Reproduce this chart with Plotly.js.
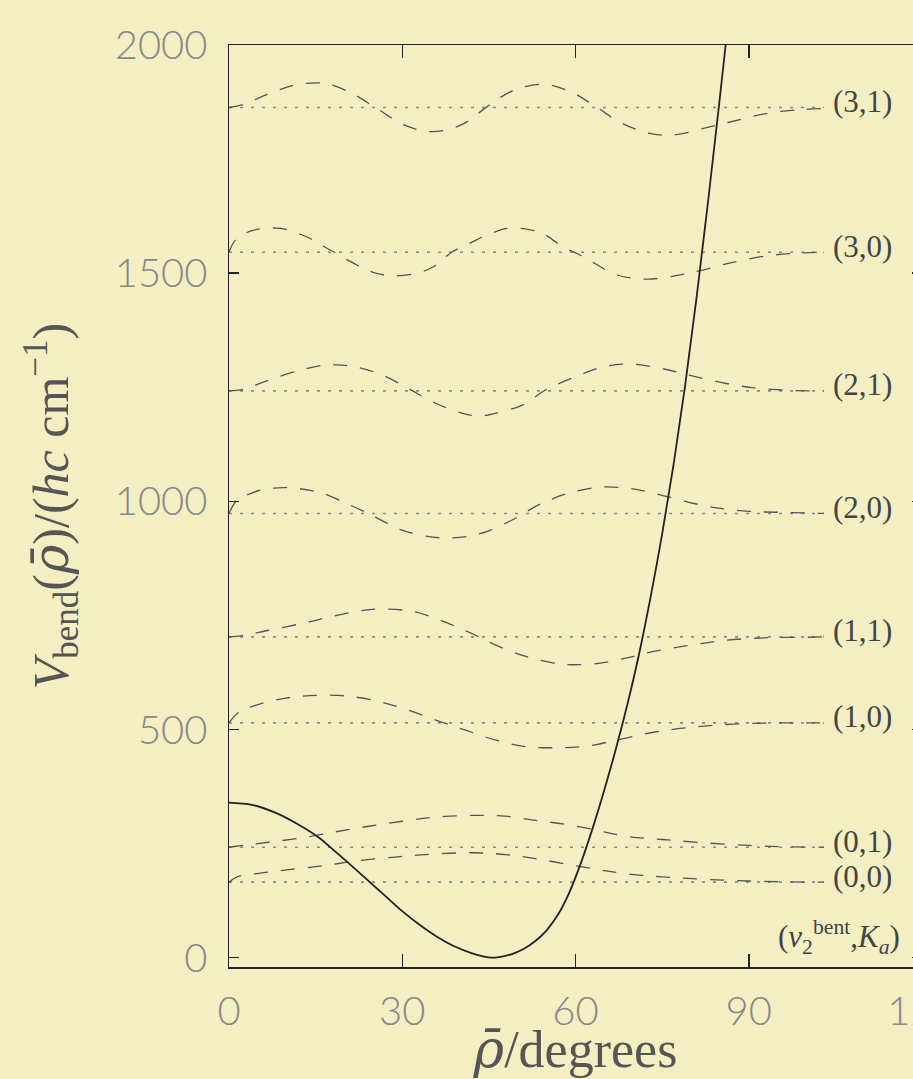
<!DOCTYPE html>
<html>
<head>
<meta charset="utf-8">
<script src="https://cdn.plot.ly/plotly-3.0.1.min.js"></script>
<style>
html,body{margin:0;padding:0;overflow:hidden;background:#f3efc3;}
#chart{width:960px;height:1079px;}
</style>
</head>
<body>
<div id="chart"></div>
<script>
// Bending potential (solid curve)
var rhoPot = [0, 4, 8, 12, 15.6, 18, 21, 24, 27, 30, 33, 36, 39, 42, 44, 45.3, 47, 49, 51, 53, 55, 57, 59, 61, 63, 65, 67, 69, 71, 73, 75, 77, 79, 81, 83, 85, 87];
var vPot   = [340, 335, 318, 292, 263, 237, 204, 170, 136, 102, 72, 46, 25, 10, 3, 0, 2, 8, 19, 36, 60, 95, 145, 210, 285, 368, 458, 556, 665, 790, 928, 1082, 1255, 1450, 1662, 1885, 2115];

// Energy levels (v2bent, Ka)
var levelLabels = ["(0,0)", "(0,1)", "(1,0)", "(1,1)", "(2,0)", "(2,1)", "(3,0)", "(3,1)"];
var levelEnergies = [165.5, 242, 514.6, 703, 973.5, 1242, 1546, 1863];
var levelEnd = 103;

// Wavefunction-like dashed curves (x in degrees, y in cm^-1)
var wf00x = [0, 1.4, 5.2, 10.4, 16.7, 21.9, 28.3, 34, 42.1, 47.9, 53.1, 58.9, 64, 68.7, 75, 82, 90, 97, 103];
var wf00y = [165.5, 177, 185, 193, 202, 212, 220, 226, 230, 226, 217, 204, 193, 184, 177, 172, 168, 166, 165.5];

var wf01x = [0, 2.9, 6.9, 12.7, 18.5, 24.2, 30, 35.8, 42.7, 47.9, 53.1, 58.3, 63.5, 68.7, 75, 82, 90, 97, 103];
var wf01y = [242, 247, 253, 263, 276, 288, 299, 308, 312, 310, 301, 292, 280, 266, 259, 252, 246, 243, 242];

var wf10x = [0, 1.7, 4.6, 9.9, 15.6, 19.9, 25.8, 31.1, 36.4, 41.1, 46.4, 51, 56.3, 61.6, 67.6, 73.5, 79.5, 86.1, 92.7, 99.4, 103];
var wf10y = [514.6, 538, 553, 569, 575, 574, 562, 542, 518, 498, 476, 463, 460, 463, 478, 494, 504, 511, 514, 514.6, 514.6];

var wf11x = [0, 2.6, 6.6, 12.9, 17.9, 23.2, 26.5, 32.1, 37.1, 42.1, 46.7, 51.7, 57, 60.3, 64.6, 68.9, 73.5, 79.5, 85.5, 92.7, 99.4, 103];
var wf11y = [703, 706, 717, 733, 748, 761, 764, 758, 737, 710, 682, 659, 644, 642, 646, 657, 671, 684, 695, 701, 702, 703];

var wf20x = [0, 1.4, 3.7, 6.3, 10.1, 14.1, 16.4, 20.2, 23.7, 26, 29.7, 33.5, 36.9, 41.3, 45.1, 49.6, 53.1, 55.5, 59.1, 64, 68.9, 73.5, 79.6, 84.8, 90, 95.2, 101.5, 103];
var wf20y = [973.5, 1003, 1017, 1027, 1030, 1024, 1017, 996, 976, 961, 938, 925, 920, 923, 936, 963, 989, 1003, 1019, 1031, 1029, 1018, 998, 985, 978, 976, 974, 973.5];

var wf21x = [0, 2.6, 6.3, 11.3, 16.2, 18.5, 21.8, 26.5, 31.2, 35.8, 40.4, 43.3, 46.1, 50.8, 54.8, 60, 64.9, 69.2, 75.3, 80.2, 85.4, 90.6, 95.8, 101, 103];
var wf21y = [1242, 1246, 1263, 1284, 1298, 1299, 1295, 1277, 1246, 1215, 1193, 1187, 1193, 1211, 1244, 1273, 1295, 1301, 1290, 1275, 1260, 1249, 1244, 1242, 1242];

var wf30x = [0, 1.15, 3.7, 6.1, 9, 11.3, 13.9, 15.9, 18.5, 20.5, 23.1, 25.4, 28.8, 33.1, 35.4, 38.7, 42.1, 44.4, 48.2, 52.2, 54.6, 58, 60.6, 63.5, 67.2, 72.4, 77.6, 81.4, 86.6, 93.2, 98.4, 103];
var wf30y = [1546, 1573, 1592, 1598, 1598, 1590, 1577, 1562, 1544, 1529, 1512, 1500, 1494, 1502, 1514, 1547, 1568, 1582, 1598, 1595, 1585, 1556, 1541, 1520, 1496, 1487, 1495, 1505, 1522, 1538, 1544, 1546];

var wf31x = [0, 2.6, 6.3, 11.3, 15.3, 17.4, 21.3, 25.7, 30.3, 35.2, 40.4, 44.7, 49, 54.2, 59.1, 63.5, 68.1, 73, 77, 83.4, 88.3, 93.5, 98.7, 103];
var wf31y = [1863, 1870, 1890, 1912, 1917, 1914, 1894, 1860, 1825, 1810, 1826, 1865, 1899, 1914, 1898, 1865, 1828, 1806, 1803, 1821, 1836, 1851, 1858, 1861];

var xTicks = [0, 30, 60, 90, 120];
var yTicks = [0, 500, 1000, 1500, 2000];

var traces = [];
var dashColor = '#555555';
var dotColor = '#8a8a8a';

// dotted levels
for (var i = 0; i < levelEnergies.length; i++) {
  traces.push({
    x: [0, levelEnd], y: [levelEnergies[i], levelEnergies[i]],
    mode: 'lines', line: {color: dotColor, width: 1.6, dash: '3px,8px'},
    hoverinfo: 'skip', showlegend: false
  });
}

var wfs = [[wf00x, wf00y], [wf01x, wf01y], [wf10x, wf10y], [wf11x, wf11y],
           [wf20x, wf20y], [wf21x, wf21y], [wf30x, wf30y], [wf31x, wf31y]];
wfs.forEach(function (w) {
  traces.push({
    x: w[0], y: w[1], mode: 'lines',
    line: {color: dashColor, width: 1.3, dash: '14px,13px', shape: 'spline', smoothing: 1},
    hoverinfo: 'skip', showlegend: false
  });
});

traces.push({
  x: rhoPot, y: vPot, mode: 'lines',
  line: {color: '#222222', width: 1.8, shape: 'spline', smoothing: 1},
  hoverinfo: 'skip', showlegend: false
});

var annotations = levelLabels.map(function (lab, i) {
  return {
    x: 104.3, y: levelEnergies[i], xref: 'x', yref: 'y',
    text: lab, showarrow: false, xanchor: 'left', yanchor: 'middle', yshift: 6,
    font: {family: 'Liberation Serif, serif', size: 31, color: '#444444'}
  };
});
annotations.push({
  x: 116.6, y: 45, xref: 'x', yref: 'y', showarrow: false, xanchor: 'right', yanchor: 'middle',
  text: '(<i>v</i><sub>2</sub><sup>bent</sup>,<i>K</i><sub><i>a</i></sub>)',
  font: {family: 'Liberation Serif, serif', size: 31, color: '#444444'}
});

var axisCommon = {
  showline: true, linecolor: '#222222', linewidth: 1.5, mirror: 'allticks',
  ticks: 'inside', tickcolor: '#222222', tickwidth: 1.5,
  showgrid: false, zeroline: false,
  tickfont: {family: 'Lato, sans-serif', size: 40, color: '#888888', weight: 300}
};

var rhoBar = '<span style="font-family:\'DejaVu Serif\'">ρ\u0304</span>';

var layout = {
  width: 960, height: 1079,
  margin: {l: 229, r: 38, t: 45, b: 112},
  paper_bgcolor: '#f3efc3', plot_bgcolor: '#f3efc3',
  showlegend: false,
  xaxis: Object.assign({}, axisCommon, {
    range: [0, 120], tickvals: xTicks, ticktext: xTicks.map(String), ticklen: 13,
    ticklabelstandoff: 8,
    title: {text: '<i>' + rhoBar + '</i>/degrees', standoff: 20,
            font: {family: 'Liberation Serif, serif', size: 52, color: '#555555'}}
  }),
  yaxis: Object.assign({}, axisCommon, {
    range: [-20.4, 2000], tickvals: yTicks, ticktext: yTicks.map(String), ticklen: 10,
    ticklabelstandoff: 12,
    title: {text: '<i>V</i><sub>bend</sub>(<i>' + rhoBar + '</i>)/(<i>hc</i> cm<sup>−1</sup>)', standoff: 30,
            font: {family: 'Liberation Serif, serif', size: 50, color: '#555555'}}
  }),
  annotations: annotations
};

Plotly.newPlot('chart', traces, layout, {displayModeBar: false, staticPlot: true});
</script>
</body>
</html>
